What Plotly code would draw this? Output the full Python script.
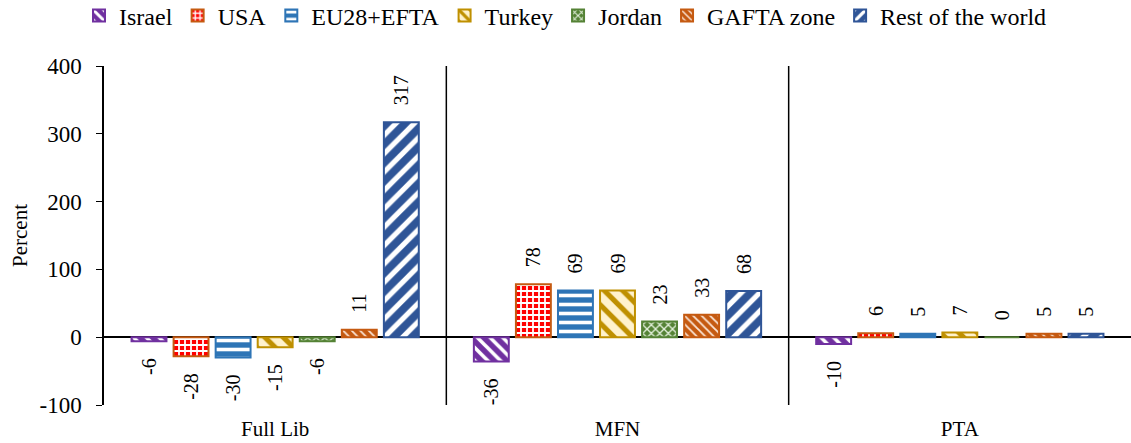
import plotly.graph_objects as go

# Scenario groups along the x axis
scenarios = ["Full Lib", "MFN", "PTA"]

# Percent change by trading partner, one list per partner
israel = [-6, -36, -10]
usa = [-28, 78, 6]
eu28_efta = [-30, 69, 5]
turkey = [-15, 69, 7]
jordan = [-6, 23, 0]
gafta = [11, 33, 5]
rest_of_world = [317, 68, 5]

# Y axis ticks (plain hyphen for the negative tick)
y_ticks = [-100, 0, 100, 200, 300, 400]
y_tick_labels = ["-100", "0", "100", "200", "300", "400"]

series = [
    ("Israel", israel, dict(shape="\\", bgcolor="#7030A0", fgcolor="#FFFFFF", size=9, solidity=0.4), "#7030A0"),
    ("USA", usa, dict(shape="+", bgcolor="#FF0000", fgcolor="#FFFFFF", size=6, solidity=0.5), "#C55A11"),
    ("EU28+EFTA", eu28_efta, dict(shape="-", bgcolor="#2E75B6", fgcolor="#FFFFFF", size=9, solidity=0.4), "#2E75B6"),
    ("Turkey", turkey, dict(shape="\\", bgcolor="#FFF2CC", fgcolor="#BF9000", size=13, solidity=0.4), "#BF9000"),
    ("Jordan", jordan, dict(shape="x", bgcolor="#548235", fgcolor="#E2EFDA", size=6, solidity=0.4), "#548235"),
    ("GAFTA zone", gafta, dict(shape="\\", bgcolor="#C55A11", fgcolor="#FBE5D6", size=6, solidity=0.3), "#C55A11"),
    ("Rest of the world", rest_of_world, dict(shape="/", bgcolor="#2F5597", fgcolor="#FFFFFF", size=13, solidity=0.4), "#2F5597"),
]

FONT = "Liberation Serif, Times New Roman, serif"
PAD = "\u2002\u2009"  # spacing between a bar end and its rotated value label


def value_label(v):
    # rotated text reads bottom-to-top: pad the side that faces the bar
    return PAD + str(v) if v >= 0 else str(v) + PAD


fig = go.Figure()
for name, vals, pattern, line_color in series:
    fig.add_trace(go.Bar(
        name=name,
        x=scenarios,
        y=vals,
        text=[value_label(v) for v in vals],
        textposition="outside",
        textangle=-90,
        constraintext="none",
        cliponaxis=False,
        textfont=dict(family=FONT, size=20, color="black"),
        marker=dict(color=pattern["bgcolor"], pattern=dict(fgopacity=1, **pattern),
                    line=dict(color=line_color, width=2)),
    ))

# Vertical separators between scenario groups
for xpos in (0.5, 1.5):
    fig.add_shape(type="line", xref="x", yref="y", x0=xpos, x1=xpos,
                  y0=-100, y1=400, line=dict(color="black", width=1.5))

fig.update_layout(
    width=1131, height=443,
    margin=dict(l=104, r=0, t=66, b=38),
    paper_bgcolor="white", plot_bgcolor="white",
    font=dict(family=FONT, color="black"),
    barmode="group", bargap=0.14, bargroupgap=0.17,
    showlegend=True,
    legend=dict(orientation="h", x=0.5, xanchor="center", xref="container",
                y=1 - 16 / 443, yanchor="middle", yref="container",
                font=dict(family=FONT, size=24), itemwidth=30,
                traceorder="normal"),
    xaxis=dict(range=[-0.5, 2.5], showline=False, ticks="",
               tickfont=dict(family=FONT, size=21), showgrid=False,
               ticklabelstandoff=9),
    yaxis=dict(range=[-100, 400], tickvals=y_ticks, ticktext=y_tick_labels,
               showgrid=False,
               showline=True, linecolor="black", linewidth=1.5,
               ticks="outside", ticklen=6, tickcolor="black",
               tickfont=dict(family=FONT, size=23), ticklabelstandoff=10,
               zeroline=True, zerolinecolor="black", zerolinewidth=1.5,
               title=dict(text="Percent", font=dict(family=FONT, size=21), standoff=6)),
)

fig.write_html("out.html")
